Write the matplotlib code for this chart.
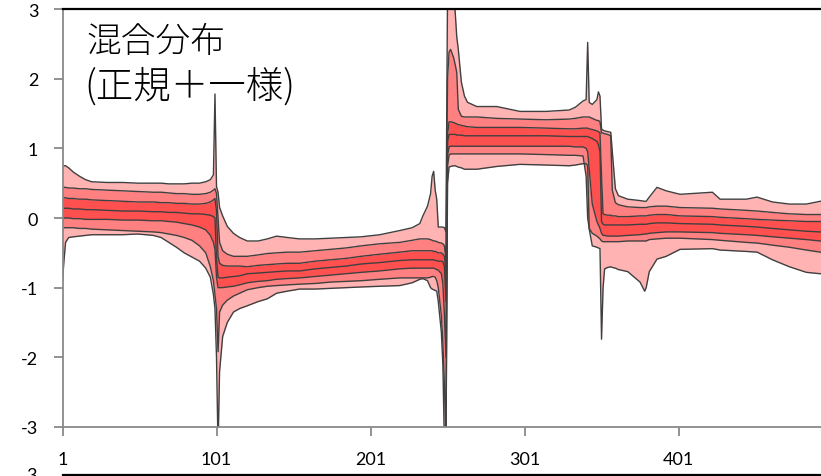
import matplotlib
matplotlib.use("Agg")
import matplotlib.pyplot as plt
from matplotlib.lines import Line2D

# time steps at which the quantile paths are sampled
t = [1, 2, 3, 5, 8, 12, 16, 20, 30, 40, 50, 60, 65, 70, 75, 80, 85, 90, 94, 97, 99, 100,
     101, 102, 103, 105, 108, 112, 116, 121, 128, 134, 140, 147, 155, 165, 175, 185, 195,
     207, 220, 228, 233, 235, 238, 240, 241, 242, 243, 244, 245, 247, 248, 249, 250,
     251, 252, 253, 255, 256, 257, 258, 260, 262, 264, 270, 283, 298, 315, 330, 334, 339,
     341, 342, 343, 345, 348, 349, 350,
     351, 352, 353, 355, 357, 358, 360, 362, 368, 376, 379, 380, 382, 387, 393, 402, 423,
     428, 445, 452, 462, 473, 484, 493, 500]

# outer upper bound
q_top = [0.73, 0.75, 0.75, 0.72, 0.66, 0.60, 0.55, 0.52, 0.51, 0.51, 0.50, 0.50, 0.50, 0.49, 0.49, 0.49, 0.50, 0.50, 0.52, 0.55, 0.62, 1.78,
         0.45, 0.37, 0.15, 0.03, -0.12, -0.22, -0.28, -0.33, -0.33, -0.30, -0.26, -0.28, -0.30, -0.30, -0.29, -0.28, -0.27,
         -0.24, -0.18, -0.14, -0.08, 0.03, 0.17, 0.35, 0.60, 0.67, 0.40, 0.27, -0.13, -0.13, -0.13, -0.14, -0.20,
         3.20, 3.30, 3.30, 3.20, 2.95, 2.60, 2.42, 1.95, 1.75, 1.66, 1.60, 1.60, 1.53, 1.53, 1.55, 1.59, 1.68,
         1.70, 2.52, 1.66, 1.63, 1.70, 1.81, 1.75,
         1.28, 1.26, 1.25, 1.24, 1.23, 0.95, 0.42, 0.32, 0.27, 0.25, 0.24, 0.24, 0.30, 0.44, 0.39, 0.34, 0.37,
         0.27, 0.27, 0.30, 0.23, 0.20, 0.20, 0.24, 0.25]

# second upper bound
q_hi2 = [0.44, 0.44, 0.44, 0.43, 0.43, 0.42, 0.42, 0.41, 0.40, 0.39, 0.38, 0.37, 0.37, 0.36, 0.35, 0.35, 0.34, 0.34, 0.35, 0.37, 0.40, 0.42,
         0.35, 0.00, -0.35, -0.47, -0.52, -0.55, -0.55, -0.55, -0.53, -0.51, -0.50, -0.49, -0.49, -0.47, -0.45, -0.43, -0.40,
         -0.37, -0.35, -0.32, -0.30, -0.30, -0.30, -0.31, -0.32, -0.33, -0.33, -0.34, -0.35, -0.36, -0.37, -0.40, -0.60,
         2.00, 2.38, 2.42, 2.30, 2.20, 2.09, 1.56, 1.46, 1.45, 1.45, 1.45, 1.43, 1.42, 1.41, 1.42, 1.43, 1.45,
         1.45, 1.45, 1.45, 1.43, 1.40, 1.40, 1.38,
         1.22, 1.22, 1.21, 1.20, 1.18, 0.40, 0.22, 0.19, 0.16, 0.15, 0.15, 0.15, 0.16, 0.17, 0.17, 0.15, 0.14,
         0.13, 0.11, 0.10, 0.08, 0.06, 0.05, 0.05, 0.05]

# inner upper bound
q_hi1 = [0.29, 0.29, 0.29, 0.28, 0.28, 0.27, 0.27, 0.26, 0.25, 0.24, 0.23, 0.23, 0.22, 0.22, 0.21, 0.21, 0.20, 0.20, 0.21, 0.23, 0.26, 0.28,
         0.10, -0.55, -0.65, -0.68, -0.69, -0.69, -0.69, -0.70, -0.68, -0.67, -0.66, -0.65, -0.65, -0.62, -0.60, -0.58, -0.55,
         -0.52, -0.49, -0.47, -0.47, -0.47, -0.47, -0.47, -0.47, -0.48, -0.48, -0.49, -0.50, -0.50, -0.52, -0.55, -0.80,
         1.20, 1.38, 1.38, 1.37, 1.36, 1.35, 1.34, 1.33, 1.32, 1.31, 1.30, 1.30, 1.30, 1.29, 1.28, 1.28, 1.29,
         1.29, 1.29, 1.28, 1.27, 1.25, 1.24, 1.22,
         0.60, 0.06, 0.05, 0.04, 0.04, 0.03, 0.03, 0.02, 0.02, 0.03, 0.03, 0.03, 0.04, 0.05, 0.05, 0.03, 0.02,
         0.01, -0.01, -0.02, -0.03, -0.04, -0.05, -0.05, -0.06]

# median
q_med = [0.14, 0.14, 0.14, 0.14, 0.13, 0.13, 0.12, 0.12, 0.11, 0.10, 0.10, 0.09, 0.09, 0.08, 0.08, 0.07, 0.06, 0.06, 0.05, 0.04, 0.02, 0.00,
         -0.60, -0.85, -0.86, -0.86, -0.85, -0.84, -0.83, -0.80, -0.79, -0.78, -0.77, -0.76, -0.76, -0.73, -0.71, -0.69, -0.66,
         -0.64, -0.61, -0.60, -0.60, -0.60, -0.60, -0.60, -0.60, -0.60, -0.61, -0.61, -0.62, -0.62, -0.63, -0.70, -1.20,
         1.10, 1.20, 1.20, 1.20, 1.20, 1.19, 1.19, 1.19, 1.18, 1.18, 1.18, 1.18, 1.18, 1.18, 1.17, 1.17, 1.17,
         1.17, 1.17, 1.16, 1.14, 1.10, 1.05, 0.95,
         -0.05, -0.09, -0.10, -0.10, -0.10, -0.10, -0.10, -0.10, -0.10, -0.09, -0.09, -0.09, -0.08, -0.07, -0.07, -0.08, -0.09,
         -0.10, -0.12, -0.13, -0.15, -0.17, -0.19, -0.20, -0.20]

# inner lower bound
q_lo1 = [0.00, 0.00, 0.00, 0.00, -0.01, -0.01, -0.02, -0.02, -0.02, -0.03, -0.03, -0.04, -0.04, -0.05, -0.06, -0.08, -0.10, -0.13, -0.17, -0.25, -0.35, -0.45,
         -0.85, -1.00, -1.00, -1.00, -0.99, -0.98, -0.96, -0.93, -0.91, -0.90, -0.88, -0.87, -0.86, -0.84, -0.82, -0.80, -0.78,
         -0.76, -0.73, -0.72, -0.72, -0.72, -0.72, -0.72, -0.72, -0.72, -0.73, -0.74, -0.75, -0.80, -0.95, -1.40, -2.00,
         0.90, 1.02, 1.03, 1.03, 1.03, 1.03, 1.03, 1.03, 1.03, 1.03, 1.03, 1.03, 1.03, 1.03, 1.03, 1.02, 1.02,
         1.00, 0.95, 0.70, 0.20, -0.05, -0.10, -0.15,
         -0.22, -0.25, -0.25, -0.26, -0.26, -0.26, -0.26, -0.26, -0.25, -0.24, -0.23, -0.23, -0.22, -0.21, -0.20, -0.20, -0.21,
         -0.22, -0.24, -0.25, -0.27, -0.29, -0.31, -0.33, -0.33]

# second lower bound
q_lo2 = [-0.14, -0.14, -0.14, -0.14, -0.14, -0.15, -0.15, -0.16, -0.17, -0.18, -0.19, -0.20, -0.21, -0.23, -0.25, -0.28, -0.32, -0.40, -0.50, -0.70, -0.90, -1.10,
         -1.30, -1.92, -1.35, -1.25, -1.18, -1.12, -1.08, -1.03, -1.00, -0.98, -0.97, -0.96, -0.95, -0.94, -0.92, -0.91, -0.90,
         -0.88, -0.86, -0.86, -0.86, -0.86, -0.86, -0.85, -0.84, -0.84, -0.85, -0.90, -1.00, -1.40, -1.80, -2.40, -3.20,
         0.75, 0.90, 0.92, 0.92, 0.92, 0.92, 0.92, 0.92, 0.92, 0.92, 0.92, 0.92, 0.92, 0.91, 0.90, 0.90, 0.89,
         0.60, 0.00, -0.15, -0.22, -0.26, -0.28, -0.30,
         -0.33, -0.34, -0.34, -0.34, -0.34, -0.34, -0.34, -0.34, -0.33, -0.33, -0.33, -0.33, -0.31, -0.30, -0.29, -0.29, -0.31,
         -0.32, -0.35, -0.36, -0.39, -0.42, -0.46, -0.49, -0.50]

# outer lower bound
q_bot = [-0.90, -0.60, -0.35, -0.28, -0.27, -0.26, -0.25, -0.24, -0.24, -0.24, -0.23, -0.25, -0.28, -0.35, -0.42, -0.50, -0.56, -0.62, -0.72, -0.85, -1.10, -1.30,
         -2.00, -3.30, -2.20, -1.70, -1.50, -1.35, -1.30, -1.26, -1.20, -1.16, -1.08, -1.05, -1.02, -1.02, -1.01, -1.00, -0.99,
         -0.98, -0.97, -0.93, -0.88, -0.87, -0.90, -1.00, -1.02, -1.03, -1.04, -1.05, -1.20, -1.64, -2.12, -3.30, -3.30,
         0.50, 0.73, 0.74, 0.75, 0.75, 0.74, 0.73, 0.72, 0.70, 0.70, 0.70, 0.74, 0.77, 0.76, 0.75, 0.76, 0.78,
         0.78, 0.75, -0.16, -0.40, -0.42, -0.43, -0.44,
         -1.74, -1.00, -0.73, -0.71, -0.70, -0.71, -0.72, -0.74, -0.77, -0.92, -1.05, -1.00, -0.77, -0.59, -0.55, -0.45, -0.44,
         -0.46, -0.48, -0.49, -0.60, -0.70, -0.78, -0.80, -0.80]

x_ticks = [1, 101, 201, 301, 401]
y_ticks = [-3, -2, -1, 0, 1, 2, 3]

title_line1 = "混合分布"
title_line2 = "(正規＋一様)"

c_light = "#FFB3B3"
c_mid = "#FF8080"
c_dark = "#FF5050"
c_line = "#404040"
c_axis = "#898989"

plt.rcParams['font.family'] = ['Lato', 'DejaVu Sans']

W, H = 821, 477
fig = plt.figure(figsize=(W / 100, H / 100), dpi=100)
left, right, bottom, top = 62.5, 831.0, 428.0, 10.0
ax = fig.add_axes([left / W, (H - bottom) / H, (right - left) / W, (bottom - top) / H])

# quantile bands from the outside in
ax.fill_between(t, q_bot, q_lo2, color=c_light, lw=0)
ax.fill_between(t, q_lo2, q_lo1, color=c_mid, lw=0)
ax.fill_between(t, q_lo1, q_hi1, color=c_dark, lw=0)
ax.fill_between(t, q_hi1, q_hi2, color=c_mid, lw=0)
ax.fill_between(t, q_hi2, q_top, color=c_light, lw=0)
for q in (q_bot, q_lo2, q_lo1, q_med, q_hi1, q_hi2, q_top):
    ax.plot(t, q, color=c_line, lw=1.0, solid_joinstyle='round')

ax.set_xlim(1, 500)
ax.set_ylim(-3, 3)
ax.set_xticks(x_ticks)
ax.set_xticklabels([str(v) for v in x_ticks])
ax.set_yticks(y_ticks)
ax.set_yticklabels([str(v) for v in y_ticks])

for side in ("left", "bottom"):
    ax.spines[side].set_color(c_axis)
    ax.spines[side].set_linewidth(1.3)
ax.spines["top"].set_color("black")
ax.spines["top"].set_linewidth(1.6)
ax.spines["right"].set_visible(False)
ax.tick_params(axis="both", colors=c_axis, labelcolor="black", labelsize=13, width=1.3)
ax.tick_params(axis="x", length=6.5, pad=11)
ax.tick_params(axis="y", length=6.5, pad=11)
ax.set_facecolor("white")

cjk = ['Noto Sans CJK JP', 'DejaVu Sans']
fig.text(86 / W, 1 - 24 / H, title_line1, family=cjk, fontsize=25, fontweight="light",
         va="top", ha="left")
fig.text(84 / W, 1 - 67 / H, title_line2, family=cjk, fontsize=27, fontweight="light",
         va="top", ha="left")

# top edge of the chart stacked below
fig.add_artist(Line2D([left / W, 1.0], [1 - 476 / H] * 2, color="black", lw=1.6,
                      transform=fig.transFigure))
fig.text(37 / W, 1 - 476 / H, "3", fontsize=13, ha="right", va="center")

fig.savefig("out.png", dpi=100)
